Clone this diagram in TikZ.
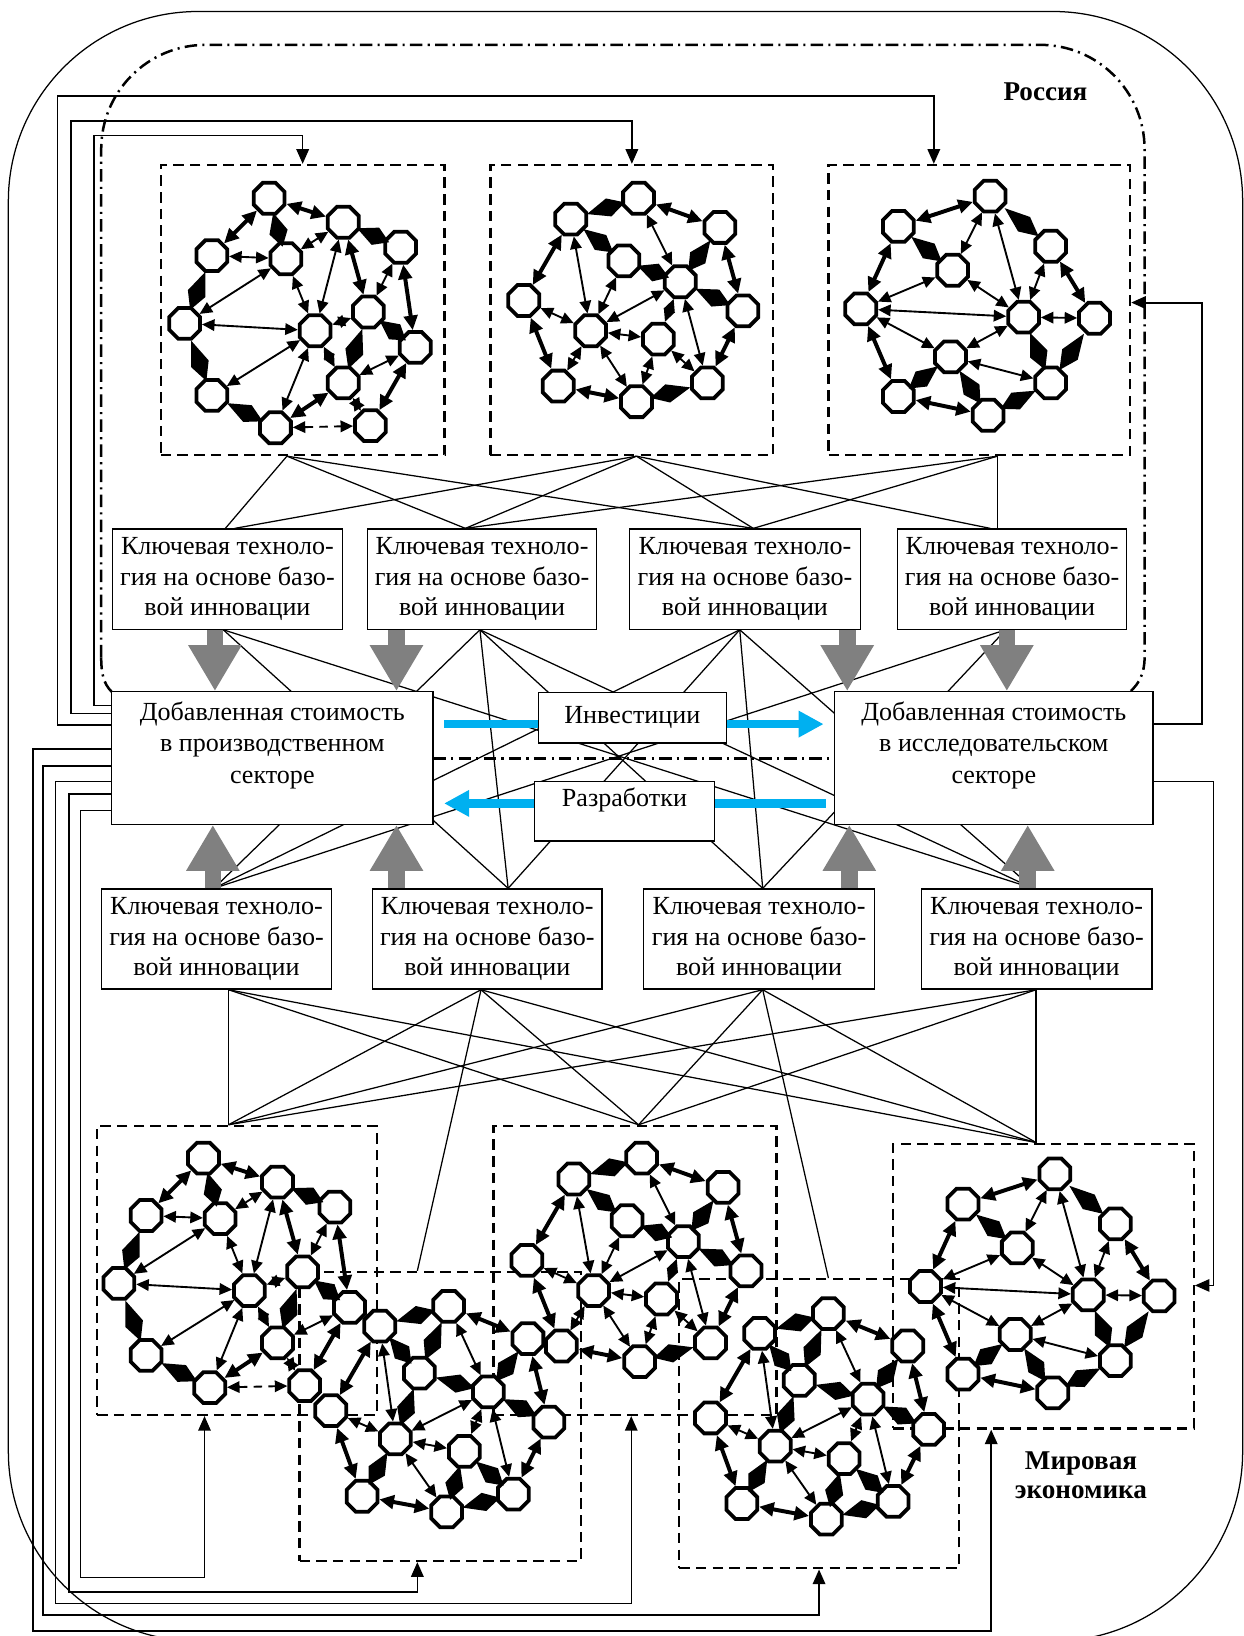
\documentclass[tikz,border=0pt]{standalone}
\usepackage{fontspec}
\setmainfont{Liberation Serif}
\usetikzlibrary{arrows.meta,shapes.geometric,calc,backgrounds}
\definecolor{skyblue}{RGB}{0,176,240}

\tikzset{
  knot/.style={draw, line width=1.8pt, fill=white, regular polygon, regular polygon sides=8,
    minimum size=16pt, inner sep=0pt},
  two/.style={<->, >={Triangle[length=6pt,width=5.5pt]}, line width=0.9pt},
  twob/.style={<->, >={Triangle[length=7pt,width=6.5pt]}, line width=1.9pt},
  dsh/.style={two, dash pattern=on 4pt off 3pt},
  netfr/.style={draw, dash pattern=on 5pt off 3pt, line width=1.1pt, inner sep=0pt, anchor=north west},
  tbox/.style={draw, line width=0.6pt, fill=white, inner sep=0pt, align=center,
    font=\fontsize{12.5}{14.5}\selectfont},
  ln/.style={line width=0.6pt},
  fba/.style={line width=0.7pt, -{Triangle[length=7pt,width=6pt]}},
  gfat/.style={draw=gray, line width=8pt, -{Triangle[length=22pt,width=24pt]}},
  blu/.style={draw=skyblue, line width=4pt},
  rus/.style={line width=1.2pt, dash pattern=on 6pt off 2.5pt on 1pt off 2.5pt},
}

% kite-shaped one-way link
\newcommand\wdg[2]{\fill ($(#1)!0.24!(#2)$) -- ($(#1)!0.56!(#2)!4.5pt!90:(#2)$)
  -- ($(#1)!0.8!(#2)$) -- ($(#1)!0.56!(#2)!4.5pt!-90:(#2)$) -- cycle;}

% the four cluster types, #1 prefix, (#2,#3) corner of the frame
\newcommand\netA[3]{%
  \begin{scope}[shift={(#2,#3)}]
    \foreach \k/\px/\py in {1/105/33,2/176/56,3/50/88,4/121/91,5/231/80,6/24/153,7/149/160,
      8/200/142,9/245/176,10/50/222,11/176/210,12/111/253,13/202/251}
      \node[knot] (#1\k) at (\px,\py) {};
  \end{scope}
  \foreach \s/\e in {3/4,2/4,4/6,6/7,2/7,4/7,5/8,7/10,7/8,7/11,9/11,7/12,11/13}
    \draw[two] (#1\s) -- (#1\e);
  \foreach \s/\e in {1/2,1/3,2/8,5/9,11/12,9/13}
    \draw[twob] (#1\s) -- (#1\e);
  \foreach \s/\e in {1/4,2/5,3/6,6/10,8/9,8/11,10/12}
    \wdg{#1\s}{#1\e};
  \foreach \s/\e in {12/13}
    \draw[dsh] (#1\s) -- (#1\e);
}
\newcommand\netB[3]{%
  \begin{scope}[shift={(#2,#3)}]
    \foreach \k/\px/\py in {1/143/33,2/78/53,3/221/61,4/129/93,5/33/131,6/97/160,7/183/113,
      8/243/141,9/162/168,10/66/213,11/141/228,12/209/210}
      \node[knot] (#1\k) at (\px,\py) {};
  \end{scope}
  \foreach \s/\e in {1/7,2/6,5/6,6/10,4/6,6/7,6/9,6/11,7/9,7/12,9/11,9/12}
    \draw[two] (#1\s) -- (#1\e);
  \foreach \s/\e in {1/3,2/5,5/10,3/8,8/12,10/11}
    \draw[twob] (#1\s) -- (#1\e);
  \foreach \s/\e in {2/1,2/4,3/7,4/7,7/8,12/11}
    \wdg{#1\s}{#1\e};
}
\newcommand\netC[3]{%
  \begin{scope}[shift={(#2,#3)}]
    \foreach \k/\px/\py in {1/156/31,2/68/60,3/214/79,4/120/102,5/32/139,6/188/147,7/256/148,
      8/118/185,9/68/223,10/214/210,11/154/241}
      \node[knot] (#1\k) at (\px,\py) {};
  \end{scope}
  \foreach \s/\e in {1/4,1/6,3/6,4/5,4/6,5/6,5/8,6/7,6/8,8/10}
    \draw[two] (#1\s) -- (#1\e);
  \foreach \s/\e in {1/2,2/5,3/7,5/9,9/11}
    \draw[twob] (#1\s) -- (#1\e);
  \foreach \s/\e in {1/3,2/4,6/10,7/10,8/9,8/11,10/11}
    \wdg{#1\s}{#1\e};
}
\newcommand\netD[3]{%
  \begin{scope}[shift={(#2,#3)}]
    \foreach \k/\px/\py in {1/78/53,2/144/34,3/116/98,4/182/116,5/240/145,6/31/134,7/93/161,
      8/159/173,9/61/216,10/142/231,11/206/214,12/220/65}
      \node[knot] (#1\k) at (\px,\py) {};
  \end{scope}
  \foreach \s/\e in {1/7,2/4,4/7,4/11,6/7,7/8,7/10,4/8}
    \draw[two] (#1\s) -- (#1\e);
  \foreach \s/\e in {2/12,1/6,12/5,6/9,9/10,5/11}
    \draw[twob] (#1\s) -- (#1\e);
  \foreach \s/\e in {1/2,1/3,2/3,3/4,12/4,4/5,3/7,7/9,8/10,8/11,10/11}
    \wdg{#1\s}{#1\e};
}

\begin{document}
\begin{tikzpicture}[x=0.5pt,y=-0.5pt]
  \useasboundingbox (0,0) rectangle (1192,1568);

  % world economy and Russia
  \draw[line width=0.6pt, rounded corners=91pt] (8,11) rectangle (1191,1573);
  \draw[rus] (107,663) .. controls (99,655) and (97,645) .. (97,630);
  \draw[rus, rounded corners=50pt] (97,630) -- (97,43) -- (1097,43) -- (1097,630);
  \draw[rus] (1097,630) .. controls (1097,645) and (1092,655) .. (1083,663);
  \node[font=\bfseries\fontsize{13}{15}\selectfont] (rus) at (1002,88) {Россия};
  \node[font=\bfseries\fontsize{13}{14}\selectfont, align=center] (wld) at (1036,1414)
    {Мировая\\экономика};

  % key technologies
  \node[tbox, minimum width=110pt, minimum height=48pt] (tk1) at (218,555)
    {Ключевая техноло-\\гия на основе базо-\\вой инновации};
  \node[tbox, minimum width=110pt, minimum height=48pt] (tk2) at (462,555)
    {Ключевая техноло-\\гия на основе базо-\\вой инновации};
  \node[tbox, minimum width=111pt, minimum height=48pt] (tk3) at (714,555)
    {Ключевая техноло-\\гия на основе базо-\\вой инновации};
  \node[tbox, minimum width=110pt, minimum height=48pt] (tk4) at (970,555)
    {Ключевая техноло-\\гия на основе базо-\\вой инновации};
  \node[tbox, minimum width=110.5pt, minimum height=48pt] (bk1) at (207.5,900)
    {Ключевая техноло-\\гия на основе базо-\\вой инновации};
  \node[tbox, minimum width=110pt, minimum height=48pt] (bk2) at (467,900)
    {Ключевая техноло-\\гия на основе базо-\\вой инновации};
  \node[tbox, minimum width=110.5pt, minimum height=48pt] (bk3) at (727.5,900)
    {Ключевая техноло-\\гия на основе базо-\\вой инновации};
  \node[tbox, minimum width=110.5pt, minimum height=48pt] (bk4) at (993.5,900)
    {Ключевая техноло-\\гия на основе базо-\\вой инновации};

  % value added and flows
  \node[tbox, minimum width=154pt, minimum height=63.5pt, font=\fontsize{12.5}{15}\selectfont]
    (dsl) at (261,726.5) {Добавленная стоимость\\в производственном\\секторе\\~};
  \node[tbox, minimum width=152.5pt, minimum height=63.5pt, font=\fontsize{12.5}{15}\selectfont]
    (dsr) at (952.5,726.5) {Добавленная стоимость\\в исследовательском\\секторе\\~};
  \node[tbox, minimum width=90pt, minimum height=24pt] (inv) at (606,688) {Инвестиции};
  \node[tbox, minimum width=86.5pt, minimum height=28.5pt, text height=9pt, text depth=13.5pt]
    (razr) at (598.5,777.5) {Разработки};

  % cluster frames
  \node[netfr, minimum width=136pt, minimum height=139pt] (nT1) at (153,157) {};
  \node[netfr, minimum width=135.5pt, minimum height=139pt] (nT2) at (469,157) {};
  \node[netfr, minimum width=144.5pt, minimum height=139pt] (nT3) at (793,157) {};
  \node[netfr, minimum width=134pt, minimum height=138.5pt] (nB1) at (92,1078) {};
  \node[netfr, minimum width=135pt, minimum height=138.5pt] (nB2) at (286,1218) {};
  \node[netfr, minimum width=135.5pt, minimum height=138.5pt] (nB3) at (472,1078) {};
  \node[netfr, minimum width=134pt, minimum height=138.5pt] (nB4) at (650,1225) {};
  \node[netfr, minimum width=144pt, minimum height=136.5pt] (nB5) at (855,1095) {};

  \begin{pgfonlayer}{background}
    \foreach \ua/\ux/\va/\vx in {nT1/275/tk1/216, nT1/275/tk2/446, nT1/275/tk3/722,
      nT2/610/tk1/225, nT2/610/tk2/446, nT2/610/tk3/722, nT2/610/tk4/949,
      nT3/956/tk2/446, nT3/956/tk3/722, nT3/956/tk4/956}
      \draw[ln] (\ua.south -| \ux,0) -- (\va.north -| \vx,0);
    \foreach \ua/\ux/\va/\vx in {tk1/214/bk2/487, tk1/214/bk4/990,
      tk2/460/bk1/205, tk2/460/bk2/487, tk2/460/bk3/731, tk2/460/bk4/990,
      tk3/709/bk1/205, tk3/709/bk2/487, tk3/709/bk3/731, tk3/709/bk4/990,
      tk4/964/bk1/205, tk4/964/bk3/731}
      \draw[ln] (\ua.south -| \ux,0) -- (\va.north -| \vx,0);
    \foreach \ua/\ux/\va/\vx in {bk1/219/nB1/219, bk1/219/nB3/612, bk1/219/nB5/993,
      bk2/461/nB1/219, bk2/461/nB2/400, bk2/461/nB3/612, bk2/461/nB5/993,
      bk3/731/nB1/219, bk3/731/nB3/612, bk3/731/nB4/794, bk3/731/nB5/993,
      bk4/993/nB1/219, bk4/993/nB3/612, bk4/993/nB5/993}
      \draw[ln] (\ua.south -| \ux,0) -- (\va.north -| \vx,0);
    \draw[rus] (dsl.east |- 0,727) -- (dsr.west |- 0,727);
  \end{pgfonlayer}

  % grey arrows
  \draw[gfat] (tk1.south -| 206,0) -- (dsl.north -| 206,0);
  \draw[gfat] (tk2.south -| 380,0) -- (dsl.north -| 380,0);
  \draw[gfat] (tk3.south -| 812,0) -- (dsr.north -| 812,0);
  \draw[gfat] (tk4.south -| 965,0) -- (dsr.north -| 965,0);
  \draw[gfat] (bk1.north -| 204,0) -- (dsl.south -| 204,0);
  \draw[gfat] (bk2.north -| 380,0) -- (dsl.south -| 380,0);
  \draw[gfat] (bk3.north -| 814,0) -- (dsr.south -| 814,0);
  \draw[gfat] (bk4.north -| 985,0) -- (dsr.south -| 985,0);

  % blue arrows
  \draw[blu, shorten <=5pt] (dsl.east |- 0,694) -- (inv.west |- 0,694);
  \draw[blu, -{Triangle[length=12pt,width=12pt]}, shorten >=5pt] (inv.east |- 0,694) -- (dsr.west |- 0,694);
  \draw[blu, shorten <=4pt] (dsr.west |- 0,770) -- (razr.east |- 0,770);
  \draw[blu, -{Triangle[length=12pt,width=12pt]}, shorten >=5pt] (razr.west |- 0,770) -- (dsl.east |- 0,770);

  % feedback
  \draw[fba] (dsl.west |- 0,695) -| (55,92) -| (nT3.north -| 895,0);
  \draw[fba] (dsl.west |- 0,684) -| (68,116) -| (nT2.north);
  \draw[fba] (dsl.west |- 0,676) -| (90,130) -| (nT1.north);
  \draw[fba] (dsl.west |- 0,777) -| (77,1512) -| (nB1.south -| 196,0);
  \draw[fba] (dsl.west |- 0,761) -| (66,1526) -| (nB2.south -| 400,0);
  \draw[fba] (dsl.west |- 0,749) -| (53,1537) -| (nB3.south -| 605,0);
  \draw[fba] (dsl.west |- 0,734) -| (41,1548) -| (nB4.south -| 785,0);
  \draw[fba, line width=1pt] (dsl.west |- 0,718) -| (32,1563) -| (nB5.south -| 950,0);
  \draw[fba, line width=1pt] (dsr.east |- 0,694) -| (1152,290) -- (nT3.east |- 0,290);
  \draw[fba] (dsr.east |- 0,749) -| (1163,1232) -- (nB5.east |- 0,1232);

  % clusters
  \netA{ta}{153}{157}
  \netB{tb}{469}{157}
  \netC{tc}{793}{157}
  \netA{ba}{90}{1077}
  \netD{bb}{286}{1218}
  \netB{bc}{472}{1077}
  \netD{bd}{650}{1225}
  \netC{be}{855}{1094}
\end{tikzpicture}
\end{document}
